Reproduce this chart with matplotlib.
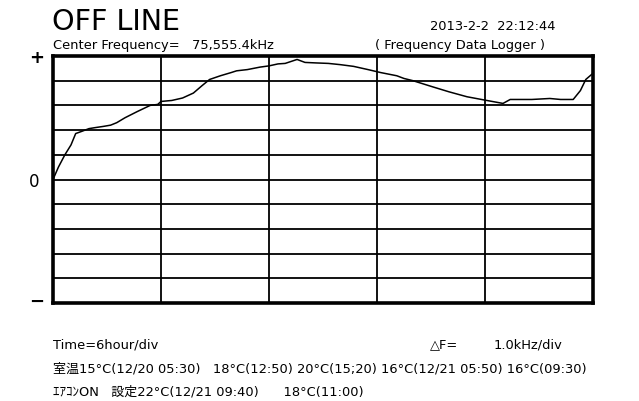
import numpy as np
import matplotlib
matplotlib.use("Agg")
import matplotlib.pyplot as plt

# time in hours (6 hour/div, 5 div), frequency deviation in kHz (1.0 kHz/div)
hours = [0, 0.3, 0.66, 1.0, 1.26, 1.6, 2.0, 2.34, 2.8, 3.2, 3.54, 4.0, 4.68,
         5.4, 5.82, 6.0, 6.6, 7.2, 7.8, 8.28, 8.7, 9.3, 9.9, 10.2, 10.8, 11.5,
         12.0, 12.5, 12.9, 13.56, 14.0, 14.6, 15.3, 15.96, 16.7, 17.5, 18.2,
         19.1, 19.5, 20.0, 21.1, 22.0, 23.0, 24.1, 25.0, 25.4, 26.6, 27.6,
         28.2, 28.9, 29.3, 29.6, 30.0]
khz = [0, 0.5, 1.0, 1.4, 1.86, 1.95, 2.06, 2.1, 2.15, 2.2, 2.3, 2.5, 2.75,
       3.0, 3.04, 3.16, 3.2, 3.3, 3.5, 3.8, 4.05, 4.2, 4.33, 4.4, 4.45, 4.55,
       4.6, 4.68, 4.7, 4.86, 4.74, 4.72, 4.7, 4.65, 4.58, 4.45, 4.33, 4.2,
       4.09, 4.0, 3.75, 3.55, 3.35, 3.2, 3.08, 3.24, 3.24, 3.28, 3.24, 3.24,
       3.6, 4.05, 4.3]

x_ticks = [0, 6, 12, 18, 24, 30]
y_ticks = [-5, -4, -3, -2, -1, 0, 1, 2, 3, 4, 5]

plt.rcParams["font.family"] = ["DejaVu Sans", "Noto Sans CJK JP"]

fig = plt.figure(figsize=(6.39, 4.02), dpi=100, facecolor="white")
ax = fig.add_axes([53 / 639, 98 / 402, 540 / 639, 247 / 402])

for xv in x_ticks:
    ax.axvline(xv, color="black", lw=1.3)
for yv in y_ticks:
    ax.axhline(yv, color="black", lw=1.3)
ax.plot(hours, khz, color="black", lw=1.1)

ax.set_xlim(0, 30)
ax.set_ylim(-5, 5)
ax.set_xticks([]); ax.set_yticks([])
for s in ax.spines.values():
    s.set_linewidth(2.6)

def txt(x, y, s, size=9.4, **kw):
    fig.text(x / 639, 1 - y / 402, s, fontsize=size, va="center", ha="left", **kw)

txt(52, 22, "OFF LINE", size=20.6)
txt(53, 45, "Center Frequency=   75,555.4kHz")
txt(430, 26, "2013-2-2  22:12:44")
txt(375, 46, "( Frequency Data Logger )")
txt(29, 58, "+", size=13, fontweight="bold")
txt(29, 182, "0", size=12)
txt(29, 302, "−", size=13, fontweight="bold")

txt(53, 345, "Time=6hour/div")
txt(430, 345, "△F=")
txt(494, 345, "1.0kHz/div")
txt(53, 369, "室温15°C(12/20 05:30)   18°C(12:50) 20°C(15;20) 16°C(12/21 05:50) 16°C(09:30)")
txt(53, 392, "ｴｱｺﾝON   設定22°C(12/21 09:40)      18°C(11:00)")

fig.savefig("out.png", dpi=100, facecolor="white")
